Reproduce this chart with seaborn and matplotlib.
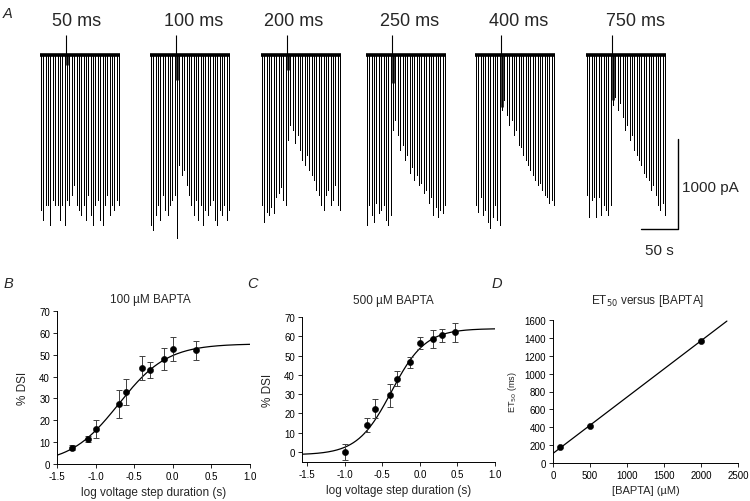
import numpy as np
import pandas as pd
import matplotlib
matplotlib.use("Agg")
import matplotlib.pyplot as plt
import seaborn as sns

# ---- panel A: evoked IPSC amplitudes (pA), one list per step duration ----
step_labels = ["50 ms", "100 ms", "200 ms", "250 ms", "400 ms", "750 ms"]
n_before_step = 11
amps_50 = [1720, 1830, 1670, 1670, 1890, 1610, 1670, 1670, 1830, 1670, 1890,
           1610, 1670, 1550, 1440, 1670, 1720, 1780, 1670, 1830, 1550, 1780,
           1890, 1670, 1610, 1830, 1890, 1670, 1550, 1780, 1670, 1720, 1610, 1670]
amps_100 = [1890, 1940, 1780, 1670, 1830, 1550, 1720, 1780, 1670, 1610, 1550,
            2030, 1220, 1330, 1280, 1440, 1550, 1670, 1780, 1610, 1830, 1670,
            1890, 1720, 1780, 1670, 1610, 1830, 1890, 1720, 1780, 1670, 1830, 1720]
amps_200 = [1670, 1850, 1740, 1780, 1690, 1750, 1580, 1530, 1470, 1610, 1670,
            940, 780, 830, 980, 890, 1050, 1170, 1220, 1110, 1280, 1330,
            1390, 1500, 1550, 1670, 1720, 1550, 1500, 1670, 1610, 1440, 1670, 1720]
amps_250 = [1890, 1670, 1780, 1860, 1640, 1750, 1720, 1670, 1830, 1890, 1780,
            830, 720, 890, 1050, 1000, 1170, 1110, 1310, 1240, 1390, 1330,
            1440, 1420, 1530, 1500, 1640, 1580, 1780, 1690, 1800, 1720, 1750, 1670]
amps_400 = [1670, 1740, 1580, 1780, 1720, 1850, 1920, 1800, 1670, 1830, 1890,
            610, 500, 670, 780, 720, 890, 830, 1000, 1020, 1110, 1170,
            1220, 1280, 1330, 1390, 1440, 1420, 1500, 1550, 1580, 1640, 1610, 1670]
amps_750 = [1550, 1800, 1610, 1580, 1800, 1580, 1780, 1670, 1720, 1780, 1670,
            560, 470, 610, 530, 690, 830, 780, 940, 890, 1050, 1110,
            1170, 1220, 1310, 1350, 1390, 1500, 1440, 1550, 1670, 1720, 1640, 1780]
step_artifact = [110, 280, 170, 310, 580, 500]
stim_interval = 3.2  # s

# ---- panel B: 100 uM BAPTA ----
b_logdur = [-1.3, -1.1, -1.0, -0.7, -0.6, -0.4, -0.3, -0.12, 0.0, 0.3]
b_dsi = [7.5, 11.5, 16, 27.5, 33, 44, 43, 48, 52.5, 52]
b_sem = [1.0, 1.5, 4.0, 6.5, 6.0, 5.5, 3.5, 5.0, 5.5, 4.5]
b_fit = dict(bottom=0.0, top=55.0, x50=-0.70, slope=1.38)

# ---- panel C: 500 uM BAPTA ----
c_logdur = [-1.0, -0.7, -0.6, -0.4, -0.3, -0.13, 0.0, 0.17, 0.3, 0.47]
c_dsi = [0, 14, 22.5, 29.5, 38, 46.5, 56.5, 58.5, 60.5, 62]
c_sem = [4.0, 3.5, 5.0, 6.0, 4.0, 3.0, 3.0, 4.5, 3.5, 5.0]
c_fit = dict(bottom=-1.5, top=64.0, x50=-0.38, slope=1.92)

# ---- panel D: ET50 versus [BAPTA] ----
d_bapta = [100, 500, 2000]
d_et50 = [180, 410, 1370]

# ---------------------------------------------------------------------------
W, H = 750, 502
SEC_PER_PX = 50 / 37
PA_PER_PX = 1000 / 90


def rect(l, t, r, b):
    return [l / W, 1 - b / H, (r - l) / W, (b - t) / H]


def fx(px):
    return px / W


def fy(py):
    return 1 - py / H


def hill(x, p):
    x = np.asarray(x)
    return p["bottom"] + (p["top"] - p["bottom"]) / (1 + 10 ** ((p["x50"] - x) * p["slope"]))


sns.set_theme(style="ticks")
plt.rcParams["font.family"] = ["Liberation Sans", "DejaVu Sans"]
plt.rcParams["axes.unicode_minus"] = False

fig = plt.figure(figsize=(7.5, 5.02), dpi=100)

# ---- A ----
axA = fig.add_axes(rect(0, 0, 750, 262))
base_py = 56
axA.set_xlim(0, W * SEC_PER_PX)
axA.set_ylim(-(262 - base_py) * PA_PER_PX, base_py * PA_PER_PX)
axA.axis("off")

trace_left_px = [41, 151, 262, 367, 476, 587]
label_px = [77, 194, 294, 410, 519, 635]
traces = [amps_50, amps_100, amps_200, amps_250, amps_400, amps_750]
for amps, left, lab, lab_x, art in zip(traces, trace_left_px, step_labels, label_px, step_artifact):
    t0 = left * SEC_PER_PX
    times = t0 + stim_interval * np.arange(len(amps))
    axA.vlines(times, 0, -np.asarray(amps), color="black", lw=0.6, antialiased=False)
    axA.hlines(0, t0 - 1, times[-1] + 1, color="black", lw=2.6)
    t_step = t0 + stim_interval * (n_before_step - 0.4)
    axA.vlines(t_step, 0, 20 * PA_PER_PX, color="black", lw=0.8)
    axA.vlines(t_step + 1.2, 0, -art, color="black", lw=1.8)
    fig.text(fx(lab_x), fy(22), lab, ha="center", va="center", fontsize=13)

# scale bar
bar_x = 678 * SEC_PER_PX
bar_y = -(230 - base_py) * PA_PER_PX
axA.plot([bar_x - 50, bar_x, bar_x], [bar_y, bar_y, bar_y + 1000], color="black", lw=1.0)
fig.text(fx(682), fy(188), "1000 pA", ha="left", va="center", fontsize=11)
fig.text(fx(659), fy(251), "50 s", ha="center", va="center", fontsize=11)

for letter, (px, py) in zip("ABCD", [(8, 14), (8, 284), (252, 284), (497, 284)]):
    fig.text(fx(px), fy(py), letter, ha="center", va="center", fontsize=10.5, style="italic")


def style_axes(ax):
    sns.despine(ax=ax)
    for s in ("left", "bottom"):
        ax.spines[s].set_linewidth(0.7)
        ax.spines[s].set_color("black")
    ax.tick_params(direction="out", length=3, width=0.6, pad=2,
                   labelsize=7, colors="black")


def dsi_panel(ax, logdur, dsi, sem, fit, x0, ylim, title, title_px):
    df = pd.DataFrame({"logdur": logdur, "dsi": dsi, "sem": sem})
    xs = np.linspace(x0, 1.0, 200)
    sns.lineplot(x=xs, y=hill(xs, fit), ax=ax, color="black", lw=0.9)
    ax.errorbar(df["logdur"], df["dsi"], yerr=df["sem"], fmt="none",
                ecolor="0.25", elinewidth=0.7, capsize=2, capthick=0.7)
    sns.scatterplot(data=df, x="logdur", y="dsi", ax=ax, color="black",
                    s=20, edgecolor="black", zorder=3)
    ax.set_xlim(x0, 1.0)
    ax.set_ylim(*ylim)
    ax.set_xticks([-1.5, -1.0, -0.5, 0.0, 0.5, 1.0])
    ax.set_xticklabels(["-1.5", "-1.0", "-0.5", "0.0", "0.5", "1.0"])
    ax.set_yticks(range(0, 71, 10))
    ax.set_xlabel("log voltage step duration (s)", fontsize=8.5, labelpad=4)
    ax.set_ylabel("% DSI", fontsize=8.5, labelpad=7)
    fig.text(fx(title_px[0]), fy(title_px[1]), title, ha="center", va="center", fontsize=8.5)
    style_axes(ax)


axB = fig.add_axes(rect(57, 312, 250, 465))
dsi_panel(axB, b_logdur, b_dsi, b_sem, b_fit, -1.5, (0, 70), "100 µM BAPTA", (150, 300))

axC = fig.add_axes(rect(302, 318, 495, 463))
dsi_panel(axC, c_logdur, c_dsi, c_sem, c_fit, -1.57, (-5.2, 70), "500 µM BAPTA", (393, 301))

# ---- D ----
axD = fig.add_axes(rect(553, 321, 738, 464))
slope, intercept = np.polyfit(d_bapta, d_et50, 1)
line_x = np.array([0, 2350])
sns.lineplot(x=line_x, y=intercept + slope * line_x, ax=axD, color="black", lw=0.9)
sns.scatterplot(x=d_bapta, y=d_et50, ax=axD, color="black", s=20,
                edgecolor="black", zorder=3)
axD.set_xlim(0, 2500)
axD.set_ylim(0, 1600)
axD.set_xticks(range(0, 2501, 500))
axD.set_yticks(range(0, 1601, 200))
axD.set_xlabel("[BAPTA] (µM)", fontsize=8, labelpad=4)
axD.set_ylabel("ET$_{50}$ (ms)", fontsize=6.5, labelpad=4)
fig.text(fx(648), fy(301), "ET$_{50}$ versus [BAPTA]", ha="center", va="center", fontsize=8.5)
style_axes(axD)

fig.savefig("out.png", dpi=100)
